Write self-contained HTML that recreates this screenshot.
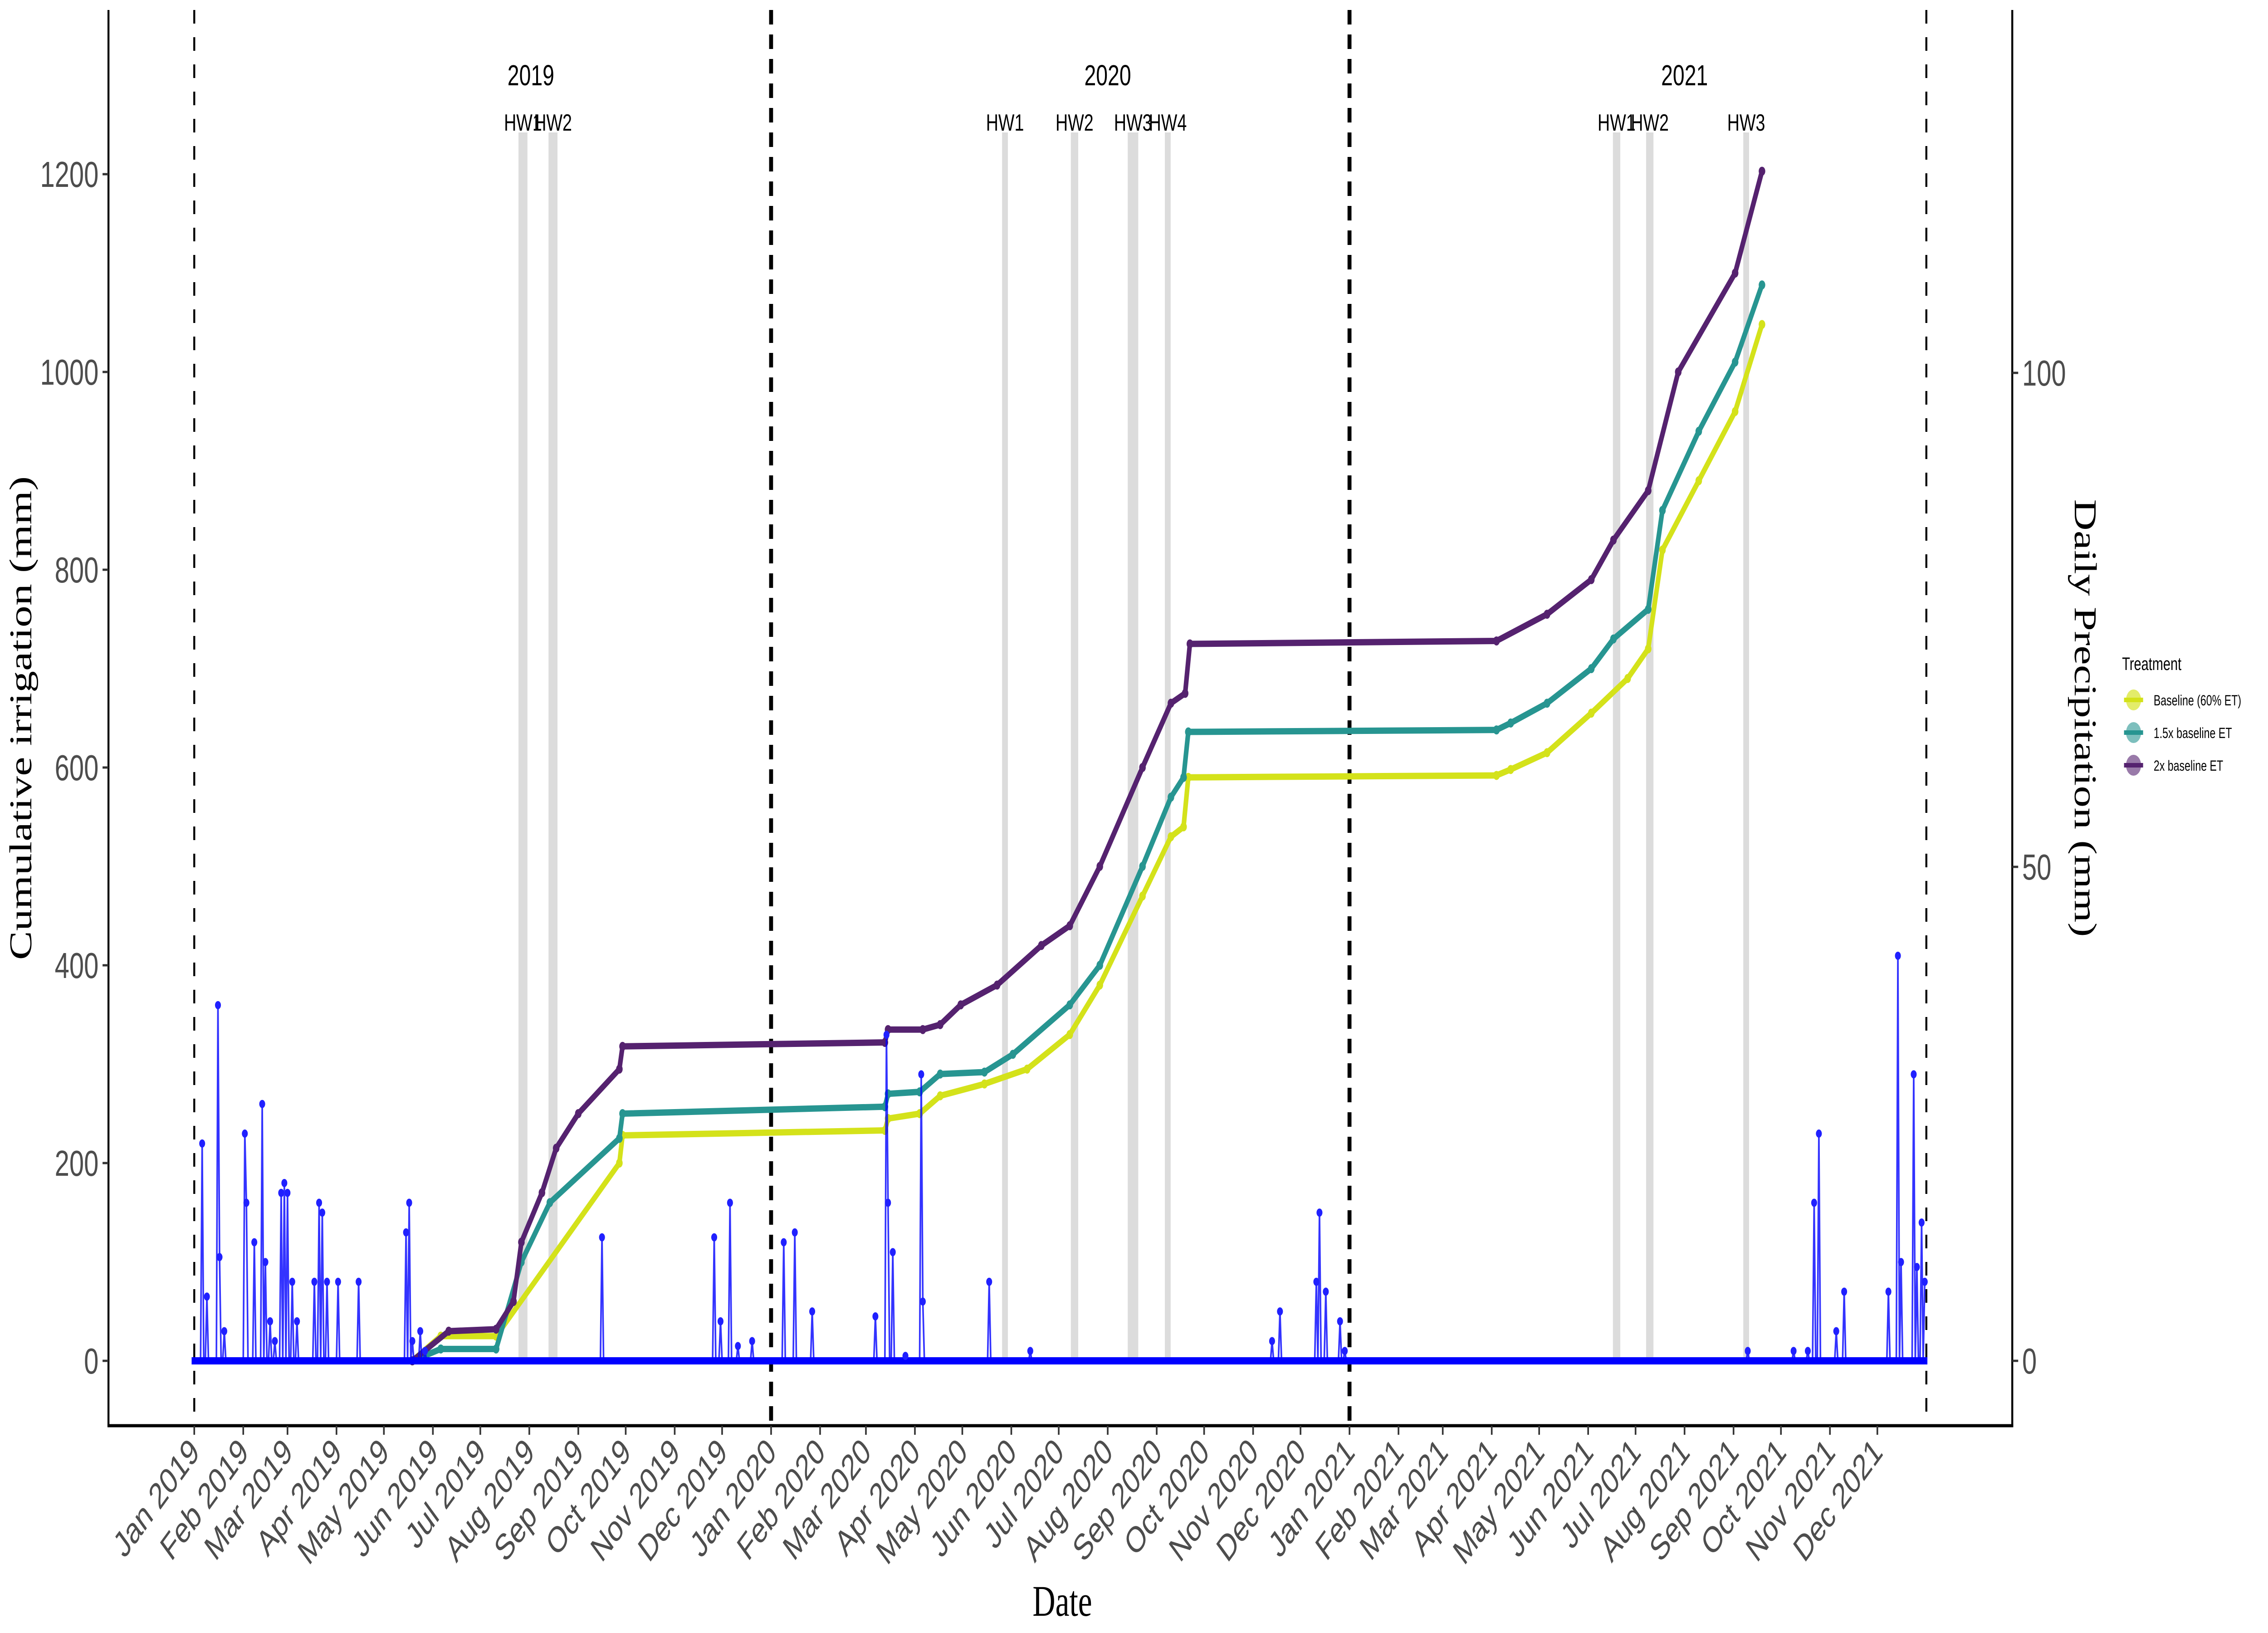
<!DOCTYPE html>
<html><head><meta charset="utf-8"><style>
html,body{margin:0;padding:0;background:#fff;width:100%;height:100%;overflow:hidden}
svg{display:block;width:100vw;height:100vh}
text{font-family:"Liberation Sans",sans-serif}
</style></head><body>
<svg id="c" viewBox="0 0 6900 3600" preserveAspectRatio="none">
<text x="0" y="0" transform="translate(95 1583) rotate(-90)" text-anchor="middle" font-size="96" style="font-family:'Liberation Serif',serif">Cumulative irrigation (mm)</text>
<text x="0" y="0" transform="translate(6312 1583) rotate(90)" text-anchor="middle" font-size="96" style="font-family:'Liberation Serif',serif">Daily Precipitation (mm)</text>
<text x="3232" y="3562" text-anchor="middle" font-size="96" style="font-family:'Liberation Serif',serif">Date</text>
<g>
<text x="6456" y="1477" font-size="40">Treatment</text>
<g><circle cx="6491" cy="1543" r="23" fill="#d4e21a" fill-opacity="0.65"/><rect x="6462" y="1538" width="58" height="10" fill="#d4e21a"/><text x="6552" y="1555" font-size="32">Baseline (60% ET)</text></g>
<g><circle cx="6491" cy="1615" r="23" fill="#279591" fill-opacity="0.6"/><rect x="6462" y="1610" width="58" height="10" fill="#279591"/><text x="6552" y="1627" font-size="32">1.5x baseline ET</text></g>
<g><circle cx="6491" cy="1687" r="23" fill="#55226f" fill-opacity="0.6"/><rect x="6462" y="1682" width="58" height="10" fill="#55226f"/><text x="6552" y="1699" font-size="32">2x baseline ET</text></g>
</g>
</svg>
<script>
// ---- data ----
const precipDays=[5,8,15,16,19,32,33,38,43,45,48,51,55,57,59,62,65,76,79,81,84,91,104,134,136,138,143,146,258,329,333,339,344,353,373,380,391,431,438,439,442,450,460,461,503,529,682,687,710,712,716,725,728,983,1012,1021,1025,1028,1039,1044,1072,1078,1080,1088,1090,1093,1095];
const precipMm=[22,6.5,36,10.5,3,23,16,12,26,10,4,2,17,18,17,8,4,8,16,15,8,8,8,13,16,2,3,1,12.5,12.5,4,16,1.5,2,12,13,5,4.5,33,16,11,0.5,29,6,8,1,2,5,8,15,7,4,1,1,1,1,16,23,3,7,7,41,10,29,9.5,14,8];
const yelDays=[138,156,191,269,271,437,439,459,472,500,527,554,573,600,618,626,629,824,833,856,884,907,920,929,952,975,992];
const yelVals=[0,25,25,200,228,233,245,250,268,280,295,330,380,470,530,540,590,592,598,615,655,690,720,820,890,960,1048];
const tealDays=[138,156,191,207,225,269,271,437,439,459,472,500,518,554,573,600,618,626,629,824,833,856,884,898,920,929,952,975,992];
const tealVals=[0,12,12,100,160,225,250,257,270,272,290,292,310,360,400,500,570,590,636,638,645,665,700,730,760,860,940,1010,1088];
const purDays=[138,161,191,202,207,220,229,243,269,271,437,439,461,472,485,508,536,554,573,600,618,627,630,824,856,884,898,920,939,975,992];
const purVals=[0,30,32,60,120,170,215,250,295,318,322,335,335,340,360,380,420,440,500,600,665,675,725,728,755,790,830,880,1000,1100,1203];
const hwDays=[208,227,513,557,594,616,900,921,982];
const hwLabels=["HW1","HW2","HW1","HW2","HW3","HW4","HW1","HW2","HW3"];
const hwWidths=[4,4,2,3,5,2,3,3,2];
const leftTicks=[0,200,400,600,800,1000,1200];
const rightTicks=[0,50,100];
const yearLabels=["2019","2020","2021"];
const yearCenters=[213,578,943];

// ---- scales ----
const X0=591, PXD=4.808;
const xd=d=>X0+d*PXD;
const yl=v=>3000-v*(2616/1200);
const yr=v=>3000-v*21.78;
const NS="http://www.w3.org/2000/svg";
const svg=document.getElementById('c');
function mk(tag,attrs,parent){const e=document.createElementNS(NS,tag);for(const k in attrs)e.setAttribute(k,attrs[k]);(parent||svg).appendChild(e);return e;}

hwDays.forEach((d,i)=>{
 const r=mk('rect',{x:xd(d)-hwWidths[i]*PXD/2-4,y:292,width:hwWidths[i]*PXD+8,height:2708,fill:'#dcdcdc'});
 
 
 const t=mk('text',{x:xd(d),y:288,'font-size':52,'text-anchor':'middle',fill:'#000'});
 t.textContent=hwLabels[i];
 
 
});
yearLabels.forEach((y,i)=>{
 const t=mk('text',{x:xd(yearCenters[i]),y:188,'font-size':64,'text-anchor':'middle',fill:'#000'});
 t.textContent=y;
 
 
});
[[0,6,'30,30'],[365,12,'32,22'],[731,12,'32,22'],[1096,6,'30,30']].forEach(a=>{
 const l=mk('line',{x1:xd(a[0]),x2:xd(a[0]),y1:22,y2:3143,stroke:'#000','stroke-width':a[1],'stroke-dasharray':a[2]});
 
 
});

function series(days,vals,col,name){
 const g=mk('g',{});
 
 
 let p='';days.forEach((d,i)=>{p+=(i?'L':'M')+xd(d)+','+yl(vals[i]);});
 mk('path',{d:p,fill:'none',stroke:col,'stroke-width':14,'stroke-linejoin':'round'},g);
 days.forEach((d,i)=>{
  const c=mk('circle',{cx:xd(d),cy:yl(vals[i]),r:10,fill:col},g);
  
  
 });
}
series(yelDays,yelVals,'#d4e21a','baseline-series');
series(tealDays,tealVals,'#279591','teal-1.5x-series');
series(purDays,purVals,'#55226f','purple-2x-series');

const pmap={};precipDays.forEach((d,i)=>pmap[d]=precipMm[i]);
let pp='';
for(let d=0;d<=1095;d++){const v=pmap[d]||0;pp+=(d?'L':'M')+xd(d)+','+yr(v);}
const pl=mk('path',{d:pp,fill:'none',stroke:'#0000ff','stroke-width':5,'stroke-opacity':0.8});


const zl=mk('rect',{x:xd(0)-8,y:2992,width:1095*PXD+16,height:16,fill:'#0000ff'});


precipDays.forEach((d,i)=>{
 const c=mk('circle',{cx:xd(d),cy:yr(precipMm[i]),r:9,fill:'#2020ff'});
 
 
});

const ax=mk('g',{});


mk('line',{x1:330,x2:330,y1:22,y2:3145,stroke:'#000','stroke-width':6},ax);
mk('line',{x1:6122,x2:6122,y1:22,y2:3145,stroke:'#000','stroke-width':6},ax);
mk('line',{x1:327,x2:6125,y1:3143,y2:3143,stroke:'#000','stroke-width':7},ax);
leftTicks.forEach(v=>{
 mk('line',{x1:312,x2:330,y1:yl(v),y2:yl(v),stroke:'#333','stroke-width':5},ax);
 const t=mk('text',{x:300,y:yl(v)+28,'font-size':80,'text-anchor':'end',fill:'#4d4d4d'},ax);
 t.textContent=v;
 
 
});
rightTicks.forEach(v=>{
 mk('line',{x1:6122,x2:6140,y1:yr(v),y2:yr(v),stroke:'#333','stroke-width':5},ax);
 const t=mk('text',{x:6152,y:yr(v)+28,'font-size':80,'text-anchor':'start',fill:'#4d4d4d'},ax);
 t.textContent=v;
 
 
});
const mon=["Jan","Feb","Mar","Apr","May","Jun","Jul","Aug","Sep","Oct","Nov","Dec"];
const base=Date.UTC(2019,0,1);
for(let y=2019;y<=2021;y++)for(let m=0;m<12;m++){
 const d=(Date.UTC(y,m,1)-base)/86400000;const x=xd(d);
 mk('line',{x1:x,x2:x,y1:3143,y2:3163,stroke:'#333','stroke-width':5},ax);
 const t=mk('text',{x:x+20,y:3205,'font-size':80,'text-anchor':'end',fill:'#4d4d4d',transform:`rotate(-45 ${x+20} 3205)`},ax);
 t.textContent=mon[m]+' '+y;
 
 
}
</script>
</body></html>
